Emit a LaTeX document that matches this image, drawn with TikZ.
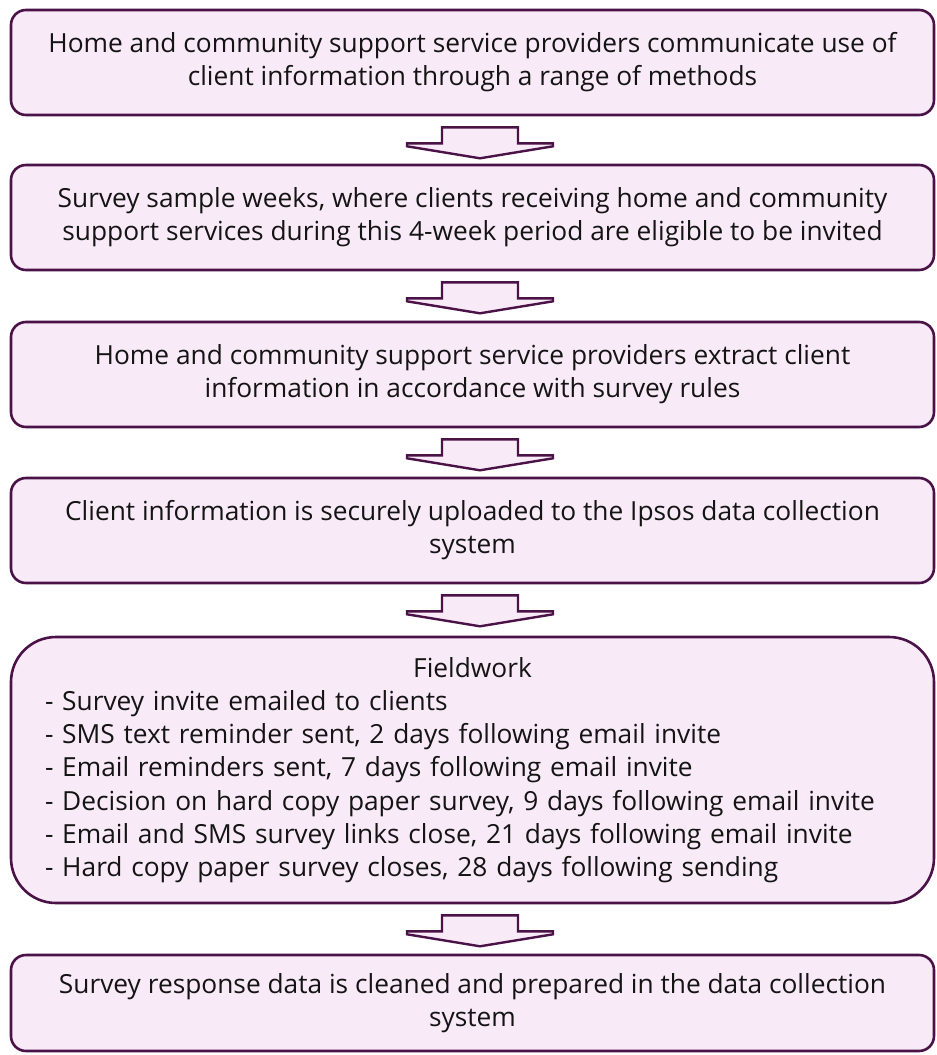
\documentclass[tikz,border=0pt]{standalone}
\usepackage{fontspec}
\setmainfont{Open Sans}
\usetikzlibrary{calc}
\definecolor{boxfill}{HTML}{F9EAF8}
\definecolor{boxline}{HTML}{4A1247}
\definecolor{txt}{HTML}{141414}
\tikzset{
  flowbox/.style={draw=boxline, fill=boxfill, line width=2.6pt, rounded corners=15pt,
    minimum width=923pt, align=center, text=txt, inner sep=0pt,
    font=\fontsize{26.3}{33}\selectfont},
  flowarrow/.style={draw=boxline, fill=boxfill, line width=2.4pt, line join=miter}
}
\newcommand\flowarr[1]{%
  \coordinate (p) at ($(#1.south)+(7.5,0)$);
  \draw[flowarrow] ($(p)+(-38,11)$) -- ($(p)+(38,11)$) -- ($(p)+(38,27)$) -- ($(p)+(73,27)$)
    -- ($(p)+(73,30)$) -- ($(p)+(0,42)$) -- ($(p)+(-73,30)$) -- ($(p)+(-73,27)$)
    -- ($(p)+(-38,27)$) -- cycle;}
\begin{document}
\begin{tikzpicture}[x=1pt,y=-1pt]
\useasboundingbox (0,0) rectangle (937,1055);
\node[flowbox, minimum height=105pt] (b1) at (472.5,62.5)
  {Home and community support service providers communicate use of\\client information through a range of methods};
\node[flowbox, minimum height=105pt] (b2) at (472.5,217.5)
  {Survey sample weeks, where clients receiving home and community\\support services during this 4-week period are eligible to be invited};
\node[flowbox, minimum height=105pt] (b3) at (472.5,374.5)
  {Home and community support service providers extract client\\information in accordance with survey rules};
\node[flowbox, minimum height=105pt] (b4) at (472.5,530.5)
  {Client information is securely uploaded to the Ipsos data collection\\system};
\node[flowbox, minimum height=266pt, rounded corners=45pt, align=left, text width=855pt] (b5) at (472.5,770)
  {\fontsize{26.3}{33.3}\selectfont\centerline{Fieldwork}
   - Survey invite emailed to clients\\
   - SMS text reminder sent, 2 days following email invite\\
   - Email reminders sent, 7 days following email invite\\
   - Decision on hard copy paper survey, 9 days following email invite\\
   - Email and SMS survey links close, 21 days following email invite\\
   - Hard copy paper survey closes, 28 days following sending};
\node[flowbox, minimum height=96pt] (b6) at (472.5,1003)
  {Survey response data is cleaned and prepared in the data collection\\system};
\flowarr{b1}
\flowarr{b2}
\flowarr{b3}
\flowarr{b4}
\flowarr{b5}
\end{tikzpicture}
\end{document}
